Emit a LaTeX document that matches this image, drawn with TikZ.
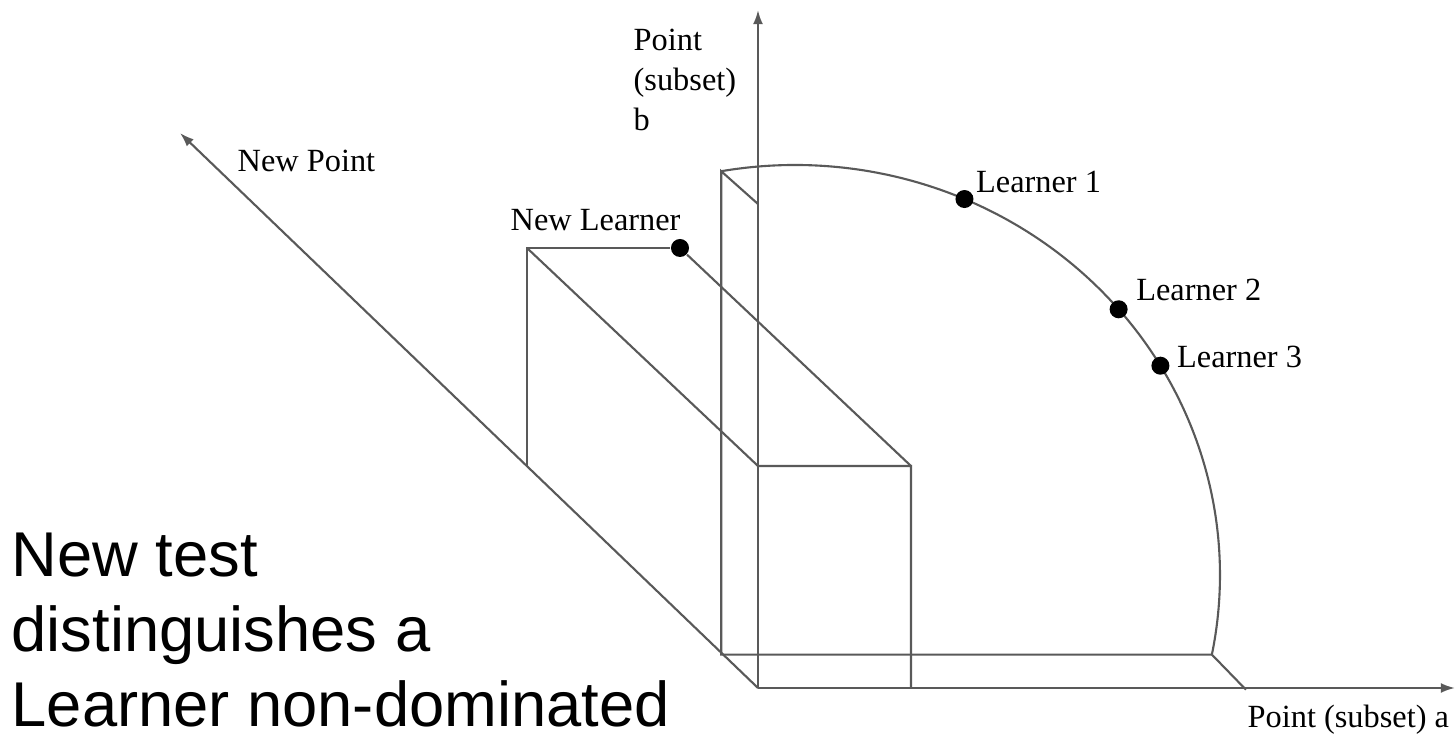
\documentclass[tikz,border=0pt]{standalone}
\usepackage{fontspec}
\setmainfont{Liberation Serif}
\newfontfamily\slidefont{Liberation Sans}
\usetikzlibrary{arrows.meta,calc}

\begin{document}
\begin{tikzpicture}[>={Latex[length=4pt,width=2.8pt]}, x=0.01cm, y=0.01cm,
  edge/.style={draw=black!65, line width=0.6pt},
  lbl/.style={font=\fontsize{9.2}{11.4}\selectfont, inner sep=0pt, anchor=base west},
  learner/.style={circle, fill=black, inner sep=0pt, minimum size=1.8mm}]
  \useasboundingbox (0,0) rectangle (1456,736);
  % axes
  \coordinate (O) at (758,48);
  \coordinate (aEnd) at (1455,48);
  \coordinate (bEnd) at (758,726);
  \coordinate (nEnd) at (180,603);
  \draw[edge,->] (O) -- (aEnd);
  \draw[edge,->] (O) -- (bEnd);
  \draw[edge,->] (O) -- (nEnd);
  % back plane with the front
  \coordinate (arcC) at (795,161);
  \coordinate (backTop) at ($(arcC)+(100:425 and 410)$);
  \coordinate (bFoot) at (758,532);
  \draw[edge] (backTop) arc[start angle=100, end angle=-11.2, x radius=425, y radius=410]
    coordinate (backRight);
  \coordinate (back) at (backTop |- backRight);
  \coordinate (aFoot) at ($(backRight)+(34,-35)$);
  \draw[edge] (backRight) -- (back) -- (backTop) -- (bFoot);
  \draw[edge] (backRight) -- (aFoot);
  \node[learner] (l1) at ($(arcC)+(66.5:425 and 410)$) {};
  \node[learner] (l2) at ($(arcC)+(40.4:425 and 410)$) {};
  \node[learner] (l3) at ($(arcC)+(30.7:425 and 410)$) {};
  \node[lbl] (l1txt) at ([shift={(11,7)}]l1.center) {Learner 1};
  \node[lbl] (l2txt) at ([shift={(17,9)}]l2.center) {Learner 2};
  \node[lbl] (l3txt) at ([shift={(16,-2)}]l3.center) {Learner 3};
  % new learner box
  \coordinate (nlBase) at (527,270);
  \coordinate (nlTop) at (527,488);
  \node[learner] (nl) at (680,488) {};
  \coordinate (fTopL) at (758,270);
  \coordinate (fTopR) at (911,270);
  \coordinate (fBotR) at (911,48);
  \draw[edge] (nlBase) -- (nlTop) -- (nl);
  \draw[edge] (nlTop) -- (fTopL) -- (fTopR) -- (fBotR);
  \draw[edge] (nl) -- (fTopR);
  \node[lbl] (nltxt) at (510,505) {New Learner};
  % axis labels
  \node[lbl] (ntxt) at (237,564) {New Point};
  \node[lbl, anchor=north west, align=left] (btxt) at (633,708) {Point\\(subset)\\b};
  \node[lbl] (atxt) at (1247,8) {Point (subset) a};
  \node[anchor=north west, inner sep=0pt, align=left,
    font=\slidefont\fontsize{18}{21.3}\selectfont] (note) at (11,204)
    {New test\\distinguishes a\\Learner non-dominated};
\end{tikzpicture}
\end{document}
